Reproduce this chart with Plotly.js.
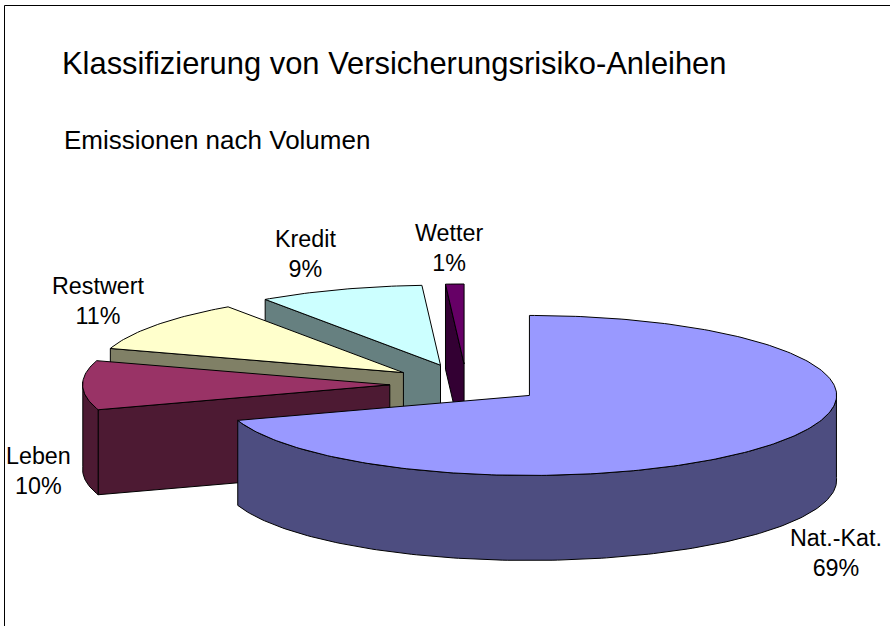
<!DOCTYPE html>
<html>
<head>
<meta charset="utf-8">
<script src="https://cdn.plot.ly/plotly-3.0.1.min.js"></script>
<style>html,body{margin:0;padding:0;background:#fff}#chart{width:890px;height:626px}</style>
</head>
<body>
<div id="chart"></div>
<script>
// Data
const categories = ["Nat.-Kat.", "Leben", "Restwert", "Kredit", "Wetter"];
const shares = [69.4, 9.9, 10.7, 9.0, 1.0];
const topColors = ["#9999FF", "#993366", "#FFFFCC", "#CCFFFF", "#660066"];
const sideColors = ["#4D4D80", "#4D1A33", "#808066", "#668080", "#330033"];

// Projection of the tilted pie (pixel-scale axes)
const pie = {cx: 466.5, cy: 384, rx: 307, ry: 80, depth: 85, explode: 0.25, persp: 0.035, sag: 3};
const rad = d => d * Math.PI / 180;
const pt = (c, a, dz) => {
  const s = Math.sin(rad(a)), co = Math.cos(rad(a));
  return [c[0] + pie.rx * s * (1 - pie.persp * co), c[1] - pie.ry * co - pie.sag * s * s + (dz || 0)];
};

const total = shares.reduce((a, b) => a + b, 0);
let acc = 0;
const slices = shares.map((v, i) => {
  const a0 = acc / total * 360; acc += v; const a1 = acc / total * 360;
  const mid = (a0 + a1) / 2;
  const c = [pie.cx + pie.explode * pie.rx * Math.sin(rad(mid)), pie.cy - pie.explode * pie.ry * Math.cos(rad(mid))];
  return {i, a0, a1, c};
});

function poly(points, fill) {
  const closed = points.concat([points[0]]);
  return {
    type: "scatter", mode: "lines", x: closed.map(p => p[0]), y: closed.map(p => p[1]),
    fill: "toself", fillcolor: fill, line: {color: "#000", width: 1}, hoverinfo: "skip", showlegend: false
  };
}
function arc(c, a0, a1, dz) {
  const out = [], n = Math.max(2, Math.ceil(Math.abs(a1 - a0)));
  for (let k = 0; k <= n; k++) out.push(pt(c, a0 + (a1 - a0) * k / n, dz));
  return out;
}

const traces = [];
// back to front: Wetter, Kredit, Restwert, Leben, Nat.-Kat.
slices.slice().reverse().forEach(s => {
  const side = sideColors[s.i], top = topColors[s.i];
  if (Math.sin(rad(s.a0)) < -1e-6) {
    const e = pt(s.c, s.a0);
    traces.push(poly([s.c, e, [e[0], e[1] + pie.depth], [s.c[0], s.c[1] + pie.depth]], side));
  }
  const r0 = Math.max(s.a0, 90), r1 = Math.min(s.a1, 270);
  if (r1 > r0) traces.push(poly(arc(s.c, r0, r1, 0).concat(arc(s.c, r1, r0, pie.depth)), side));
  traces.push(poly([s.c].concat(arc(s.c, s.a0, s.a1, 0)), top));
});

const labelPos = [[836, 553], [38, 470.5], [98, 300.5], [305.5, 253.5], [449, 248]];
const font = {family: "Liberation Sans, Arial, sans-serif", color: "#000"};
const annotations = categories.map((name, i) => ({
  xref: "x", yref: "y", x: labelPos[i][0], y: labelPos[i][1], showarrow: false, align: "center",
  text: name + "<br>" + Math.round(shares[i]) + "%", font: Object.assign({size: 23.3}, font)
}));
annotations.push({xref: "x", yref: "y", x: 62, y: 140, xanchor: "left", showarrow: false,
  text: "Emissionen nach Volumen", font: Object.assign({size: 26}, font)});

const hidden = {visible: false, fixedrange: true};
Plotly.newPlot("chart", traces, {
  width: 890, height: 626, margin: {l: 0, r: 0, t: 0, b: 0},
  paper_bgcolor: "#fff", plot_bgcolor: "#fff", showlegend: false,
  title: {text: "Klassifizierung von Versicherungsrisiko-Anleihen", x: 62 / 890, xanchor: "left",
    y: 1 - 63 / 626, yanchor: "middle", font: Object.assign({size: 30.9}, font)},
  xaxis: Object.assign({range: [0, 890]}, hidden),
  yaxis: Object.assign({range: [626, 0]}, hidden),
  annotations,
  shapes: [
    {type: "line", xref: "x", yref: "y", x0: 4.5, x1: 4.5, y0: 5.5, y1: 626, line: {color: "#000", width: 1}},
    {type: "line", xref: "x", yref: "y", x0: 4.5, x1: 890, y0: 5.5, y1: 5.5, line: {color: "#000", width: 1}}
  ]
}, {displayModeBar: false, staticPlot: true});
</script>
</body>
</html>
